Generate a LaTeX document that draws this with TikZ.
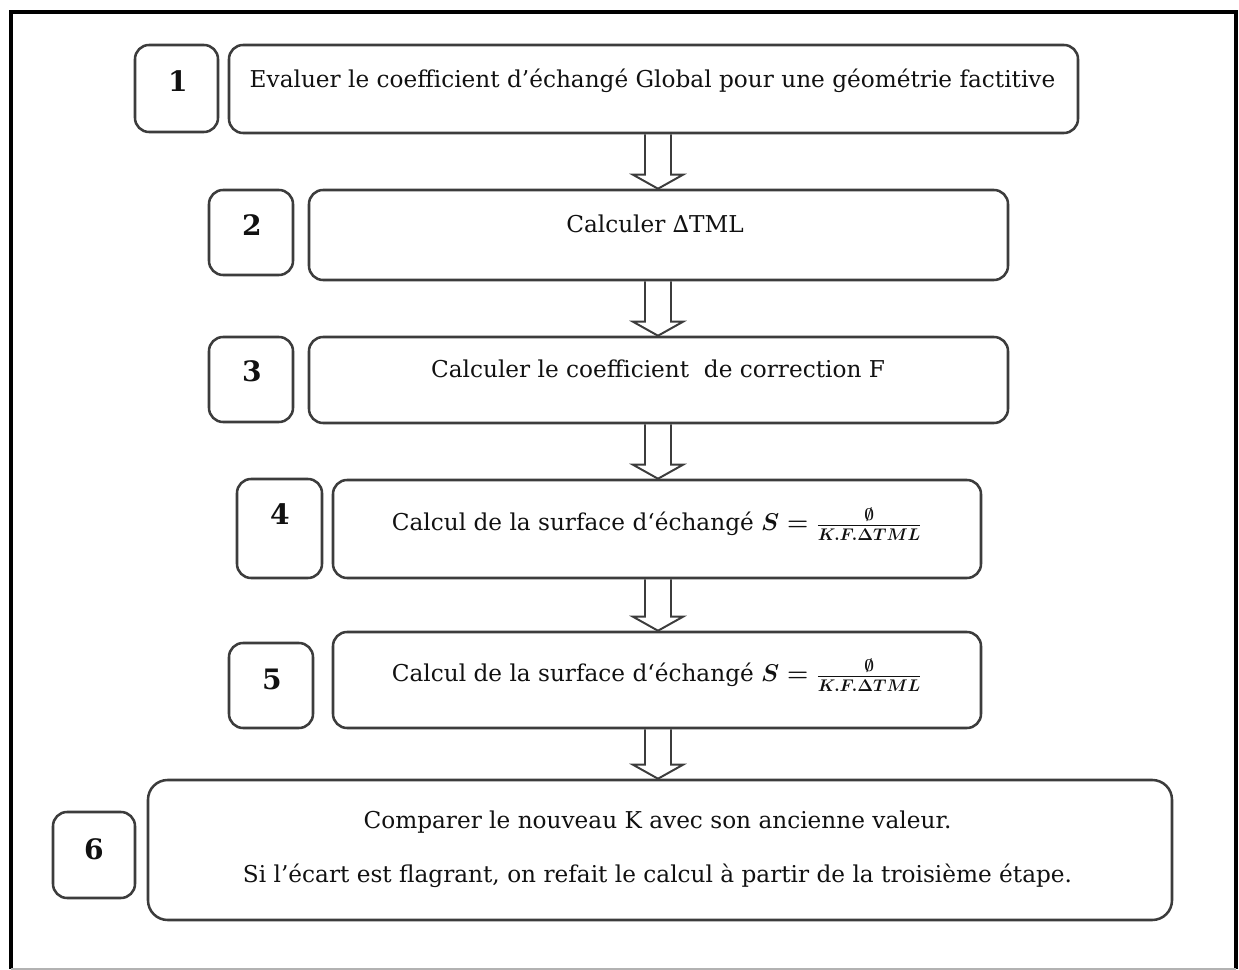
\documentclass[tikz,border=0pt]{standalone}
\usepackage{fontspec}
\setmainfont{DejaVu Serif}
\usetikzlibrary{positioning,calc}
\definecolor{boxline}{HTML}{3C3C3C}
\definecolor{boxink}{HTML}{111111}

\newcommand{\hollowdown}[2]{%
  \draw[hollow] ($(#1.south -| ax)+(-13,0)$) -- ($(#2.north -| ax)+(-13,-14)$)
    -- ($(#2.north -| ax)+(-25,-14)$) -- (#2.north -| ax)
    -- ($(#2.north -| ax)+(25,-14)$) -- ($(#2.north -| ax)+(13,-14)$)
    -- ($(#1.south -| ax)+(13,0)$);}

\begin{document}
\begin{tikzpicture}[x=0.025cm,y=-0.025cm,
  stepbox/.style={draw=boxline,line width=1.8pt,rounded corners=10pt,inner sep=0pt},
  boxsize/.style 2 args={minimum width=#1*0.025cm,minimum height=#2*0.025cm},
  num/.style={font=\fontsize{20}{24}\selectfont\bfseries,text=boxink,anchor=base,inner sep=0pt},
  txt/.style={font=\fontsize{16.5}{20}\selectfont,text=boxink,anchor=base,inner sep=0pt},
  hollow/.style={draw=boxline,line width=1.4pt,line join=miter}]
\useasboundingbox (0,0) rectangle (1239,970);
\draw[black,line width=2.8pt] (11,969) -- (11,12) -- (1236,12) -- (1236,969);
\draw[black!30,line width=0.8pt] (11,969) -- (1236,969);
\coordinate (ax) at (658,0);

\node[stepbox,boxsize={83}{87}] (n1) at (176.5,88.5) {};
\node[num] (l1) at (178,92) {1};
\node[stepbox,boxsize={849}{88}] (s1) at (653.5,89) {};
\node[txt] (t1) at (652.5,88) {Evaluer le coefficient d’échangé Global pour une géométrie factitive};

\node[stepbox,boxsize={84}{85}] (n2) at (251,232.5) {};
\node[num] (l2) at (252,236) {2};
\node[stepbox,boxsize={699}{90}] (s2) at (658.5,235) {};
\node[txt] (t2) at (655,233) {Calculer ∆TML};

\node[stepbox,boxsize={84}{85}] (n3) at (251,379.5) {};
\node[num] (l3) at (252,382) {3};
\node[stepbox,boxsize={699}{86}] (s3) at (658.5,380) {};
\node[txt] (t3) at (658,378) {Calculer le coefficient~ de correction F};

\node[stepbox,boxsize={85}{99}] (n4) at (279.5,528.5) {};
\node[num] (l4) at (280,525) {4};
\node[stepbox,boxsize={648}{98}] (s4) at (657,529) {};
\node[txt] (t4) at (657,531) {Calcul de la surface d‘échangé {\boldmath$S=\frac{\emptyset}{K.F.\Delta TML}$}};

\node[stepbox,boxsize={84}{85}] (n5) at (271,685.5) {};
\node[num] (l5) at (272,690) {5};
\node[stepbox,boxsize={648}{96}] (s5) at (657,680) {};
\node[txt] (t5) at (657,682) {Calcul de la surface d‘échangé {\boldmath$S=\frac{\emptyset}{K.F.\Delta TML}$}};

\node[stepbox,boxsize={82}{86}] (n6) at (94,855) {};
\node[num] (l6) at (94,860) {6};
\node[stepbox,rounded corners=14pt,boxsize={1024}{140}] (s6) at (660,850) {};
\node[txt] (t6a) at (657.5,829) {Comparer le nouveau K avec son ancienne valeur.};
\node[txt] (t6b) at (657.5,882) {Si l’écart est flagrant, on refait le calcul à partir de la troisième étape.};

\hollowdown{s1}{s2}
\hollowdown{s2}{s3}
\hollowdown{s3}{s4}
\hollowdown{s4}{s5}
\hollowdown{s5}{s6}
\end{tikzpicture}
\end{document}
